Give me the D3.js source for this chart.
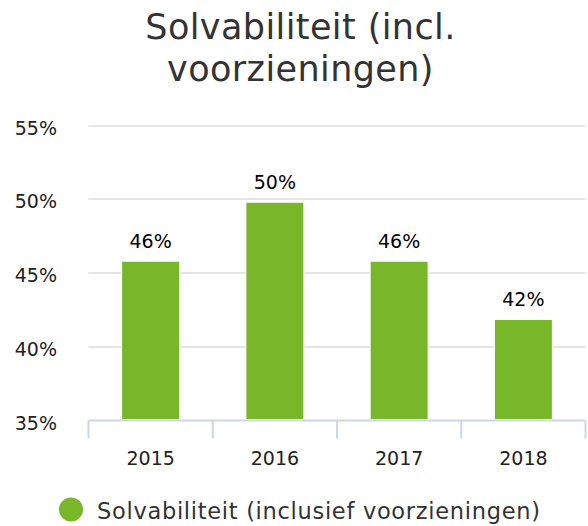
<!DOCTYPE html>
<html>
<head>
<meta charset="utf-8">
<script src="https://cdn.jsdelivr.net/npm/d3@7"></script>
<style>
  html, body { margin: 0; padding: 0; background: #fff; }
  svg { display: block; font-family: "DejaVu Sans", Verdana, sans-serif; }
</style>
</head>
<body>
<div class="chart"></div>
<script>
const years = ['2015', '2016', '2017', '2018'];
const solvency = [45.8, 49.8, 45.8, 41.85];
const labels = ['46%', '50%', '46%', '42%'];
const yTicks = [35, 40, 45, 50, 55];
const titleLines = ['Solvabiliteit (incl.', 'voorzieningen)'];
const seriesName = 'Solvabiliteit (inclusief voorzieningen)';

const config = {
  width: 588,
  height: 526,
  left: 88.5,
  right: 585.5,
  top: 125.5,
  bottom: 420.5,
  green: '#78b72a'
};

const svg = d3.select('.chart')
  .append('svg')
  .attr('width', config.width)
  .attr('height', config.height);

// title
svg.append('g')
  .selectAll('text')
  .data(titleLines)
  .enter()
  .append('text')
  .attr('x', 300.5)
  .attr('y', (d, i) => 39 + i * 42)
  .attr('text-anchor', 'middle')
  .attr('font-size', 35)
  .attr('letter-spacing', 0.4)
  .attr('fill', '#333')
  .text(d => d);

const x = d3.scaleBand()
  .domain(years)
  .range([config.left, config.right])
  .paddingInner(0)
  .paddingOuter(0);

const y = d3.scaleLinear()
  .domain([35, 55])
  .range([config.bottom, config.top]);

// grid
svg.append('g')
  .selectAll('line')
  .data(yTicks.slice(1))
  .enter()
  .append('line')
  .attr('x1', config.left)
  .attr('x2', config.right)
  .attr('y1', d => Math.round(y(d)))
  .attr('y2', d => Math.round(y(d)))
  .attr('stroke', '#e6e6e6')
  .attr('stroke-width', 2);

// y labels
svg.append('g')
  .selectAll('text')
  .data(yTicks)
  .enter()
  .append('text')
  .attr('x', 57)
  .attr('y', d => y(d) + 9)
  .attr('text-anchor', 'end')
  .attr('font-size', 19)
  .attr('fill', '#222')
  .text(d => d + '%');

// bars
const barWidth = 58;
svg.append('g')
  .selectAll('rect')
  .data(solvency)
  .enter()
  .append('rect')
  .attr('x', (d, i) => x(years[i]) + x.bandwidth() / 2 - barWidth / 2)
  .attr('y', d => y(d))
  .attr('width', barWidth)
  .attr('height', d => y(35) - y(d) - 1)
  .attr('fill', config.green)
  .attr('stroke', '#fff')
  .attr('stroke-width', 1);

// data labels
svg.append('g')
  .selectAll('text')
  .data(solvency)
  .enter()
  .append('text')
  .attr('x', (d, i) => x(years[i]) + x.bandwidth() / 2)
  .attr('y', d => y(d) - 13)
  .attr('text-anchor', 'middle')
  .attr('font-size', 19)
  .attr('fill', '#000')
  .text((d, i) => labels[i]);

// x axis
const xAxis = d3.axisBottom(x)
  .tickSize(0)
  .tickPadding(0);

const gx = svg.append('g')
  .attr('transform', `translate(0,${config.bottom})`)
  .call(xAxis);

gx.select('.domain')
  .attr('stroke', '#ccd6eb')
  .attr('stroke-width', 2)
  .attr('d', `M${config.left},0H${config.right}`);

gx.selectAll('.tick text')
  .attr('y', 44)
  .attr('dy', null)
  .attr('font-size', 19)
  .attr('font-family', 'DejaVu Sans, Verdana, sans-serif')
  .attr('fill', '#222');

// category boundary ticks
gx.append('g')
  .selectAll('line')
  .data(years.concat(['end']))
  .enter()
  .append('line')
  .attr('x1', (d, i) => i < years.length ? x(d) : config.right)
  .attr('x2', (d, i) => i < years.length ? x(d) : config.right)
  .attr('y1', 0)
  .attr('y2', 18)
  .attr('stroke', '#ccd6eb')
  .attr('stroke-width', 2);

// legend
const legend = svg.append('g');
legend.append('circle')
  .attr('cx', 71)
  .attr('cy', 509.5)
  .attr('r', 12)
  .attr('fill', config.green);

legend.append('text')
  .attr('x', 97)
  .attr('y', 519)
  .attr('font-size', 22.5)
  .attr('letter-spacing', 0.7)
  .attr('fill', '#333')
  .text(seriesName);
</script>
</body>
</html>
